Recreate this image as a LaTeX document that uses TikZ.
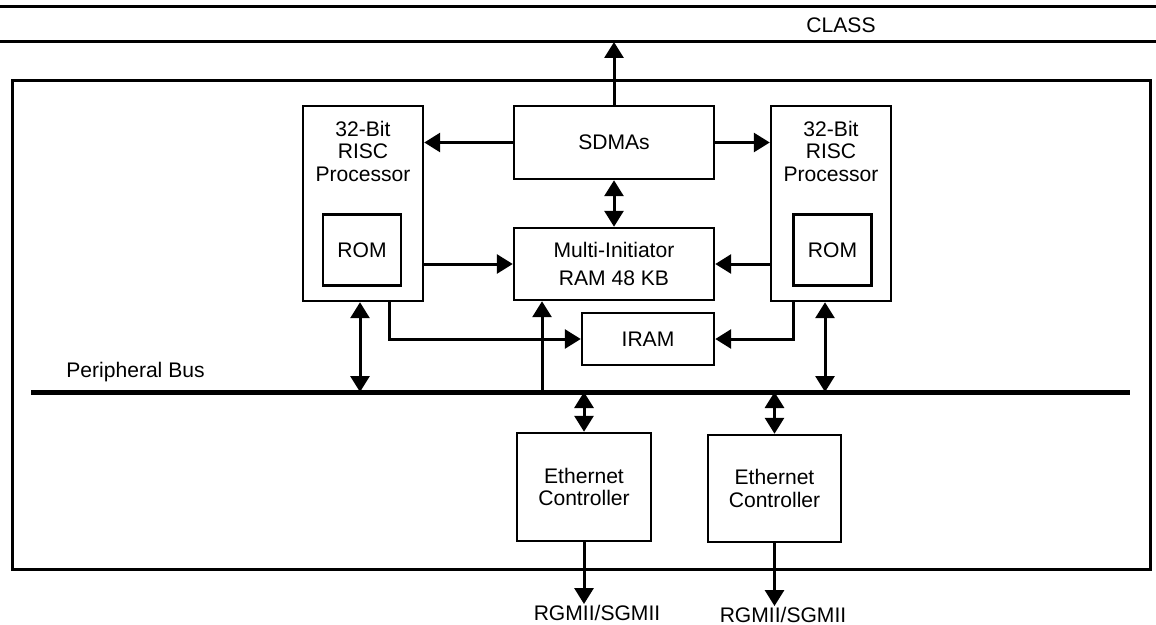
\documentclass[tikz,border=0pt]{standalone}
\usepackage{fontspec}
\setmainfont{Liberation Sans}
\usetikzlibrary{arrows.meta,positioning}

\begin{document}
\begin{tikzpicture}[x=0.02cm, y=-0.02cm,
  every node/.style={font=\fontsize{12}{12.8}\selectfont},
  blk/.style={draw, line width=0.05cm, inner sep=0pt},
  proctext/.style={align=center, inner sep=0pt},
  portlbl/.style={inner sep=0.5pt},
  arr/.style={line width=0.06cm, -{Triangle[length=0.32cm,width=0.38cm]}},
  dblarr/.style={line width=0.06cm, {Triangle[length=0.32cm,width=0.38cm]}-{Triangle[length=0.32cm,width=0.38cm]}}]
\useasboundingbox (0,0) rectangle (1156,625);

% CLASS interface
\coordinate (classhi) at (0,7);
\coordinate (classlo) at (0,42);
\draw[line width=0.06cm] (classhi) -- (1156,7);
\draw[line width=0.06cm] (classlo) -- (1156,42);
\node (class) at (841,25) {CLASS};

% Chip outline
\node[blk, line width=0.06cm, minimum width=22.78cm, minimum height=9.8cm] (chip) at (581.5,325) {};

% Left processor with ROM
\node[blk, minimum width=2.4cm, minimum height=3.9cm] (lproc) at (363,203.5) {};
\node[proctext] (ltxt) at (363,151) {32-Bit\\RISC\\Processor};
\node[blk, minimum width=1.56cm, minimum height=1.42cm] (lrom) at (362,250) {ROM};

% Right processor with ROM
\node[blk, minimum width=2.4cm, minimum height=3.9cm] (rproc) at (831,203.5) {};
\node[proctext] (rtxt) at (831,151) {32-Bit\\RISC\\Processor};
\node[blk, minimum width=1.56cm, minimum height=1.42cm] (rrom) at (832.5,250) {ROM};

% Middle blocks
\node[blk, minimum width=4cm, minimum height=1.46cm] (sdma) at (614,142.5) {SDMAs};
\node[blk, minimum width=4cm, minimum height=1.44cm, align=center,
  font=\fontsize{12}{16}\selectfont] (mi) at (614,264) {Multi-Initiator\\RAM 48 KB};
\node[blk, minimum width=2.64cm, minimum height=1.04cm] (iram) at (648,339) {IRAM};

% Peripheral bus
\coordinate (busL) at (31,392);
\coordinate (busR) at (1130,392);
\node[anchor=base west, inner sep=0pt] (buslbl) at (66,377) {Peripheral Bus};

% Ethernet controllers
\node[blk, minimum width=2.68cm, minimum height=2.16cm, align=center] (eth1) at (584,487) {Ethernet\\Controller};
\node[blk, minimum width=2.66cm, minimum height=2.14cm, align=center] (eth2) at (774.5,488.5) {Ethernet\\Controller};
\node[portlbl] (rg1) at (597,613) {RGMII/SGMII};
\node[portlbl] (rg2) at (783,615) {RGMII/SGMII};

% Connections
\draw[arr] (sdma.north) -- (sdma.north |- classlo);
\draw[arr] (sdma.west) -- (lproc.east |- sdma.west);
\draw[arr] (sdma.east) -- (rproc.west |- sdma.east);
\draw[dblarr] (sdma.south) -- (mi.north);
\draw[arr] (lproc.east |- mi.west) -- (mi.west);
\draw[arr] (rproc.west |- mi.east) -- (mi.east);
\draw[arr] ([xshift=0.54cm]lproc.south) |- (iram.west);
\draw[arr] ([xshift=-0.76cm]rproc.south) |- (iram.east);
\draw[dblarr] ([xshift=-0.06cm]lproc.south) -- ([xshift=-0.06cm]lproc.south |- busL);
\draw[dblarr] ([xshift=-0.12cm]rproc.south) -- ([xshift=-0.12cm]rproc.south |- busL);
\draw[arr] ([xshift=-1.44cm]mi.south |- busL) -- ([xshift=-1.44cm]mi.south);
\draw[dblarr] (eth1.north |- busL) -- (eth1.north);
\draw[dblarr] (eth2.north |- busL) -- (eth2.north);
\draw[arr] (eth1.south) -- (eth1.south |- rg1.north);
\draw[arr] (eth2.south) -- (eth2.south |- rg2.north);
\draw[line width=0.1cm] (busL) -- (busR);

\end{tikzpicture}
\end{document}
